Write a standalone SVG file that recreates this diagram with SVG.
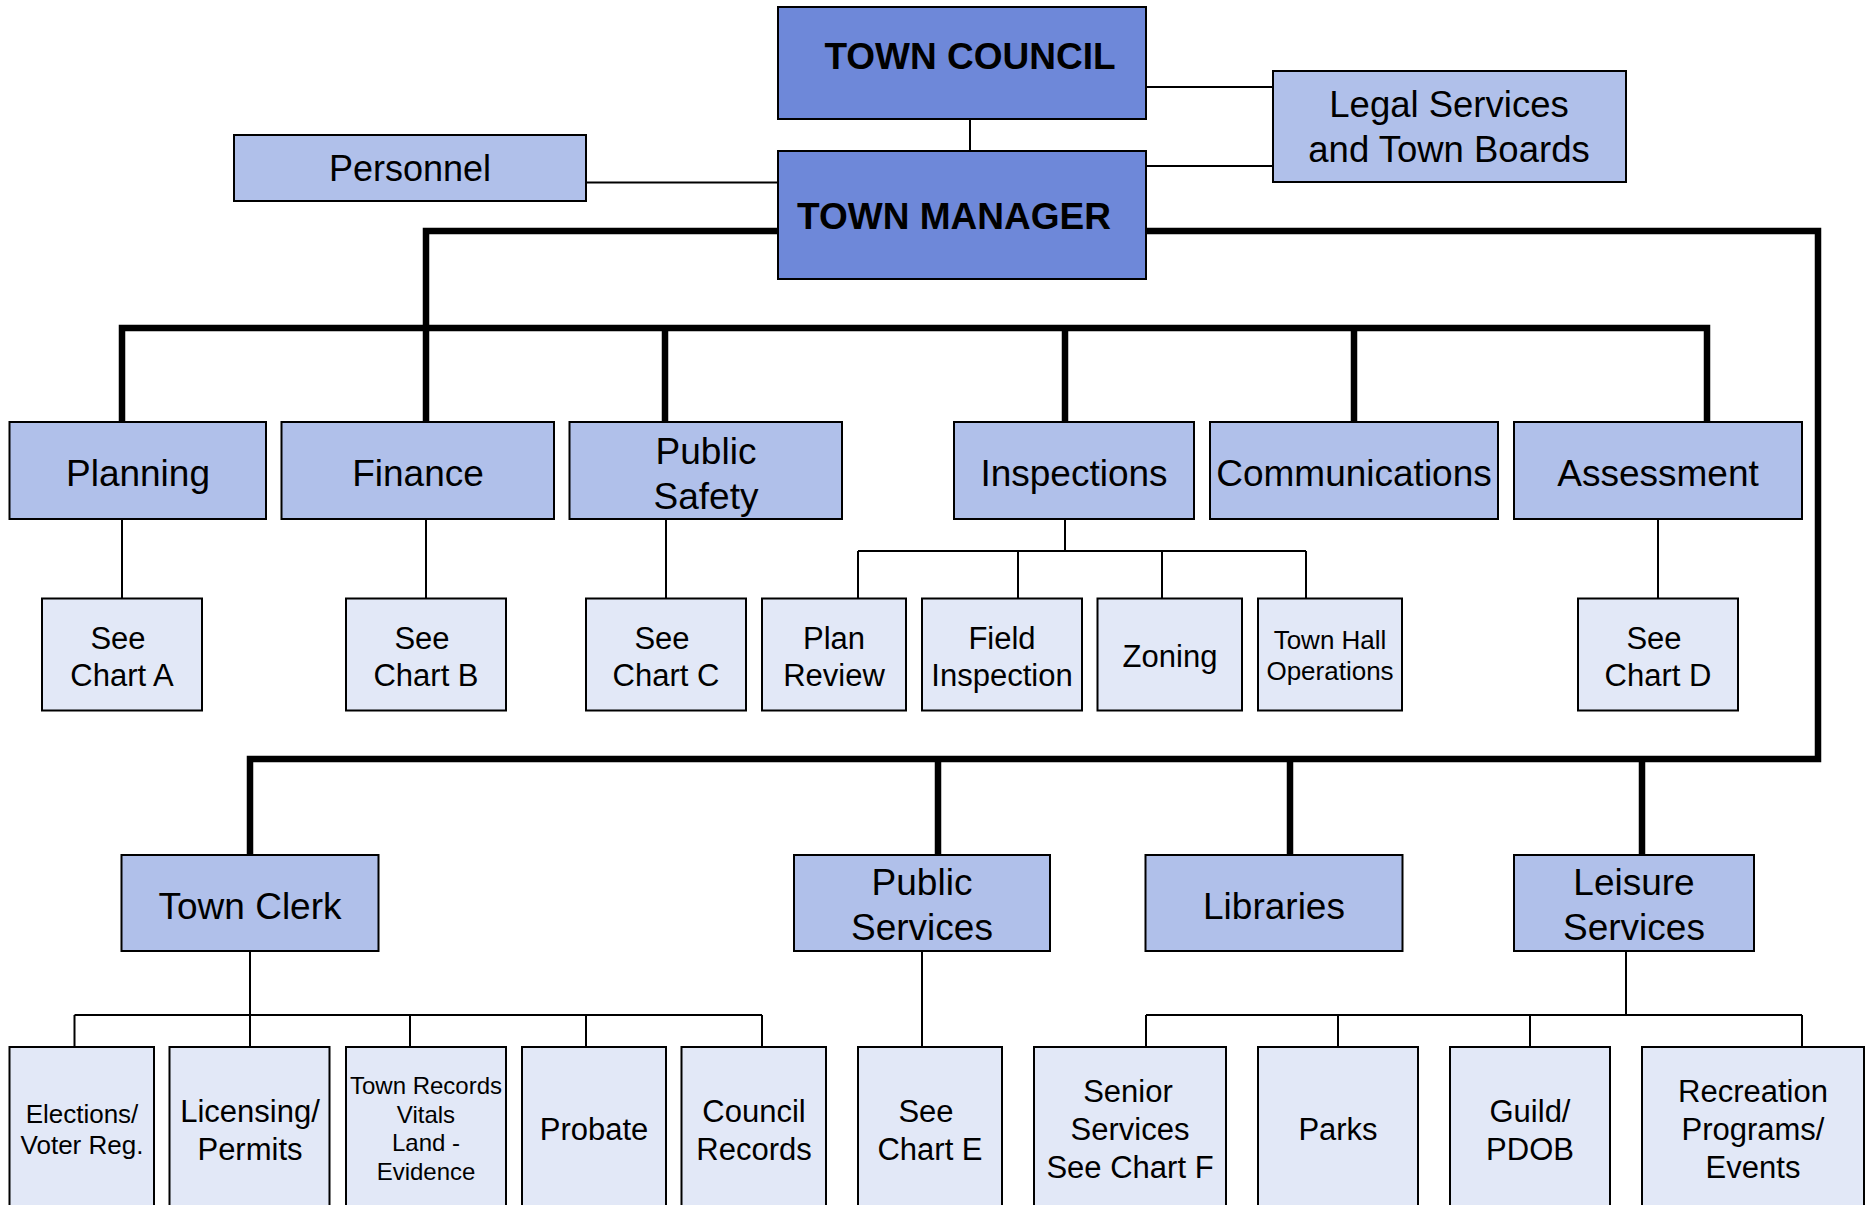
<svg xmlns="http://www.w3.org/2000/svg" width="1866" height="1205" viewBox="0 0 1866 1205">
  <style>
    .lead rect { fill: #6e88d9; stroke: #000; stroke-width: 2; }
    .dept rect { fill: #b0c0ea; stroke: #000; stroke-width: 2; }
    .unit rect { fill: #e2e8f7; stroke: #000; stroke-width: 2; }
    text { font-family: "Liberation Sans", Arial, sans-serif; text-anchor: middle; fill: #000; }
    .b { font-weight: bold; font-size: 37px; }
    .l { font-size: 37px; }
    .m { font-size: 31px; }
    .s { font-size: 26px; }
    .xs { font-size: 24px; }
    .thin { stroke: #000; stroke-width: 2; fill: none; }
    .thick { stroke: #000; stroke-width: 6.5; fill: none; stroke-linejoin: miter; }
  </style>
  <rect width="1866" height="1205" fill="#fff"/>

  <g id="connectors">
    <!-- main reporting lines -->
    <polyline class="thick" points="778,231 426,231 426,422"/>
    <polyline class="thick" points="122,422 122,328 1707,328 1707,422"/>
    <line class="thick" x1="665" y1="328" x2="665" y2="422"/>
    <line class="thick" x1="1065" y1="328" x2="1065" y2="422"/>
    <line class="thick" x1="1354" y1="328" x2="1354" y2="422"/>
    <polyline class="thick" points="1146,231 1818,231 1818,759 250,759 250,855"/>
    <line class="thick" x1="938" y1="759" x2="938" y2="855"/>
    <line class="thick" x1="1290" y1="759" x2="1290" y2="855"/>
    <line class="thick" x1="1642" y1="759" x2="1642" y2="855"/>

    <!-- top links -->
    <line class="thin" x1="970" y1="119" x2="970" y2="151"/>
    <line class="thin" x1="1146" y1="87" x2="1273" y2="87"/>
    <line class="thin" x1="1146" y1="166" x2="1273" y2="166"/>
    <line class="thin" x1="586" y1="182.5" x2="778" y2="182.5"/>

    <!-- department sub-units -->
    <line class="thin" x1="122" y1="519" x2="122" y2="598.5"/>
    <line class="thin" x1="426" y1="519" x2="426" y2="598.5"/>
    <line class="thin" x1="666" y1="519" x2="666" y2="598.5"/>
    <line class="thin" x1="1065" y1="519" x2="1065" y2="551"/>
    <line class="thin" x1="858" y1="551" x2="1306" y2="551"/>
    <line class="thin" x1="858" y1="551" x2="858" y2="598.5"/>
    <line class="thin" x1="1018" y1="551" x2="1018" y2="598.5"/>
    <line class="thin" x1="1162" y1="551" x2="1162" y2="598.5"/>
    <line class="thin" x1="1306" y1="551" x2="1306" y2="598.5"/>
    <line class="thin" x1="1658" y1="519" x2="1658" y2="598.5"/>

    <!-- town clerk units -->
    <line class="thin" x1="250" y1="951" x2="250" y2="1015"/>
    <line class="thin" x1="74.5" y1="1015" x2="762" y2="1015"/>
    <line class="thin" x1="74.5" y1="1015" x2="74.5" y2="1047"/>
    <line class="thin" x1="250" y1="1015" x2="250" y2="1047"/>
    <line class="thin" x1="410" y1="1015" x2="410" y2="1047"/>
    <line class="thin" x1="586" y1="1015" x2="586" y2="1047"/>
    <line class="thin" x1="762" y1="1015" x2="762" y2="1047"/>

    <!-- public services -->
    <line class="thin" x1="922" y1="951" x2="922" y2="1047"/>

    <!-- leisure services units -->
    <line class="thin" x1="1626" y1="951" x2="1626" y2="1015"/>
    <line class="thin" x1="1146" y1="1015" x2="1802" y2="1015"/>
    <line class="thin" x1="1146" y1="1015" x2="1146" y2="1047"/>
    <line class="thin" x1="1338" y1="1015" x2="1338" y2="1047"/>
    <line class="thin" x1="1530" y1="1015" x2="1530" y2="1047"/>
    <line class="thin" x1="1802" y1="1015" x2="1802" y2="1047"/>
  </g>

  <!-- leadership -->
  <g id="town-council" class="lead">
    <rect x="778" y="7" width="368" height="112"/>
    <text class="b" x="970" y="69">TOWN COUNCIL</text>
  </g>
  <g id="town-manager" class="lead">
    <rect x="778" y="151" width="368" height="128"/>
    <text class="b" x="954" y="229">TOWN MANAGER</text>
  </g>
  <g id="legal-services" class="dept">
    <rect x="1273" y="71" width="353" height="111"/>
    <text x="1449" y="117" font-size="36.5">Legal Services</text>
    <text x="1449" y="162" font-size="36.5">and Town Boards</text>
  </g>
  <g id="personnel" class="dept">
    <rect x="234" y="135" width="352" height="66"/>
    <text x="410" y="181" font-size="36">Personnel</text>
  </g>

  <!-- departments -->
  <g id="planning" class="dept">
    <rect x="9.5" y="422" width="256.5" height="97"/>
    <text class="l" x="138" y="486">Planning</text>
  </g>
  <g id="finance" class="dept">
    <rect x="281.5" y="422" width="272.5" height="97"/>
    <text class="l" x="418" y="486">Finance</text>
  </g>
  <g id="public-safety" class="dept">
    <rect x="569.5" y="422" width="272.5" height="97"/>
    <text class="l" x="706" y="463.5">Public</text>
    <text class="l" x="706" y="508.5">Safety</text>
  </g>
  <g id="inspections" class="dept">
    <rect x="954" y="422" width="240" height="97"/>
    <text class="l" x="1074" y="486">Inspections</text>
  </g>
  <g id="communications" class="dept">
    <rect x="1210" y="422" width="288" height="97"/>
    <text class="l" x="1354" y="486">Communications</text>
  </g>
  <g id="assessment" class="dept">
    <rect x="1514" y="422" width="288" height="97"/>
    <text class="l" x="1658" y="486">Assessment</text>
  </g>

  <!-- department sub-units -->
  <g id="chart-a" class="unit">
    <rect x="42" y="598.5" width="160" height="112"/>
    <text class="m" x="118" y="649">See</text>
    <text class="m" x="122" y="686">Chart A</text>
  </g>
  <g id="chart-b" class="unit">
    <rect x="346" y="598.5" width="160" height="112"/>
    <text class="m" x="422" y="649">See</text>
    <text class="m" x="426" y="686">Chart B</text>
  </g>
  <g id="chart-c" class="unit">
    <rect x="586" y="598.5" width="160" height="112"/>
    <text class="m" x="662" y="649">See</text>
    <text class="m" x="666" y="686">Chart C</text>
  </g>
  <g id="plan-review" class="unit">
    <rect x="762" y="598.5" width="144" height="112"/>
    <text class="m" x="834" y="649">Plan</text>
    <text class="m" x="834" y="686">Review</text>
  </g>
  <g id="field-inspection" class="unit">
    <rect x="922" y="598.5" width="160" height="112"/>
    <text class="m" x="1002" y="649">Field</text>
    <text class="m" x="1002" y="686">Inspection</text>
  </g>
  <g id="zoning" class="unit">
    <rect x="1097.5" y="598.5" width="144.5" height="112"/>
    <text class="m" x="1170" y="667">Zoning</text>
  </g>
  <g id="town-hall-operations" class="unit">
    <rect x="1258" y="598.5" width="144" height="112"/>
    <text class="s" x="1330" y="649">Town Hall</text>
    <text class="s" x="1330" y="680">Operations</text>
  </g>
  <g id="chart-d" class="unit">
    <rect x="1578" y="598.5" width="160" height="112"/>
    <text class="m" x="1654" y="649">See</text>
    <text class="m" x="1658" y="686">Chart D</text>
  </g>

  <!-- lower departments -->
  <g id="town-clerk" class="dept">
    <rect x="121.5" y="855" width="257" height="96"/>
    <text class="l" x="250" y="918.5">Town Clerk</text>
  </g>
  <g id="public-services" class="dept">
    <rect x="794" y="855" width="256" height="96"/>
    <text class="l" x="922" y="895">Public</text>
    <text class="l" x="922" y="940">Services</text>
  </g>
  <g id="libraries" class="dept">
    <rect x="1145.5" y="855" width="257" height="96"/>
    <text class="l" x="1274" y="918.5">Libraries</text>
  </g>
  <g id="leisure-services" class="dept">
    <rect x="1514" y="855" width="240" height="96"/>
    <text class="l" x="1634" y="895">Leisure</text>
    <text class="l" x="1634" y="940">Services</text>
  </g>

  <!-- lower units -->
  <g id="elections" class="unit">
    <rect x="9.5" y="1047" width="144.5" height="175"/>
    <text class="s" x="82" y="1123">Elections/</text>
    <text class="s" x="82" y="1154">Voter Reg.</text>
  </g>
  <g id="licensing" class="unit">
    <rect x="169.5" y="1047" width="160" height="175"/>
    <text class="m" x="250" y="1121.5">Licensing/</text>
    <text class="m" x="250" y="1159.5">Permits</text>
  </g>
  <g id="town-records" class="unit">
    <rect x="346" y="1047" width="160" height="175"/>
    <text class="xs" x="426" y="1094">Town Records</text>
    <text class="xs" x="426" y="1122.5">Vitals</text>
    <text class="xs" x="426" y="1151">Land -</text>
    <text class="xs" x="426" y="1179.5">Evidence</text>
  </g>
  <g id="probate" class="unit">
    <rect x="522" y="1047" width="144" height="175"/>
    <text class="m" x="594" y="1140">Probate</text>
  </g>
  <g id="council-records" class="unit">
    <rect x="681.5" y="1047" width="144.5" height="175"/>
    <text class="m" x="754" y="1121.5">Council</text>
    <text class="m" x="754" y="1159.5">Records</text>
  </g>
  <g id="chart-e" class="unit">
    <rect x="858" y="1047" width="144" height="175"/>
    <text class="m" x="926" y="1121.5">See</text>
    <text class="m" x="930" y="1159.5">Chart E</text>
  </g>
  <g id="senior-services" class="unit">
    <rect x="1034" y="1047" width="192" height="175"/>
    <text class="m" x="1128" y="1101.5">Senior</text>
    <text class="m" x="1130" y="1139.5">Services</text>
    <text class="m" x="1130" y="1177.5">See Chart F</text>
  </g>
  <g id="parks" class="unit">
    <rect x="1258" y="1047" width="160" height="175"/>
    <text class="m" x="1338" y="1140">Parks</text>
  </g>
  <g id="guild" class="unit">
    <rect x="1450" y="1047" width="160" height="175"/>
    <text class="m" x="1530" y="1121.5">Guild/</text>
    <text class="m" x="1530" y="1159.5">PDOB</text>
  </g>
  <g id="recreation" class="unit">
    <rect x="1642" y="1047" width="222" height="175"/>
    <text class="m" x="1753" y="1101.5">Recreation</text>
    <text class="m" x="1753" y="1139.5">Programs/</text>
    <text class="m" x="1753" y="1177.5">Events</text>
  </g>
</svg>
